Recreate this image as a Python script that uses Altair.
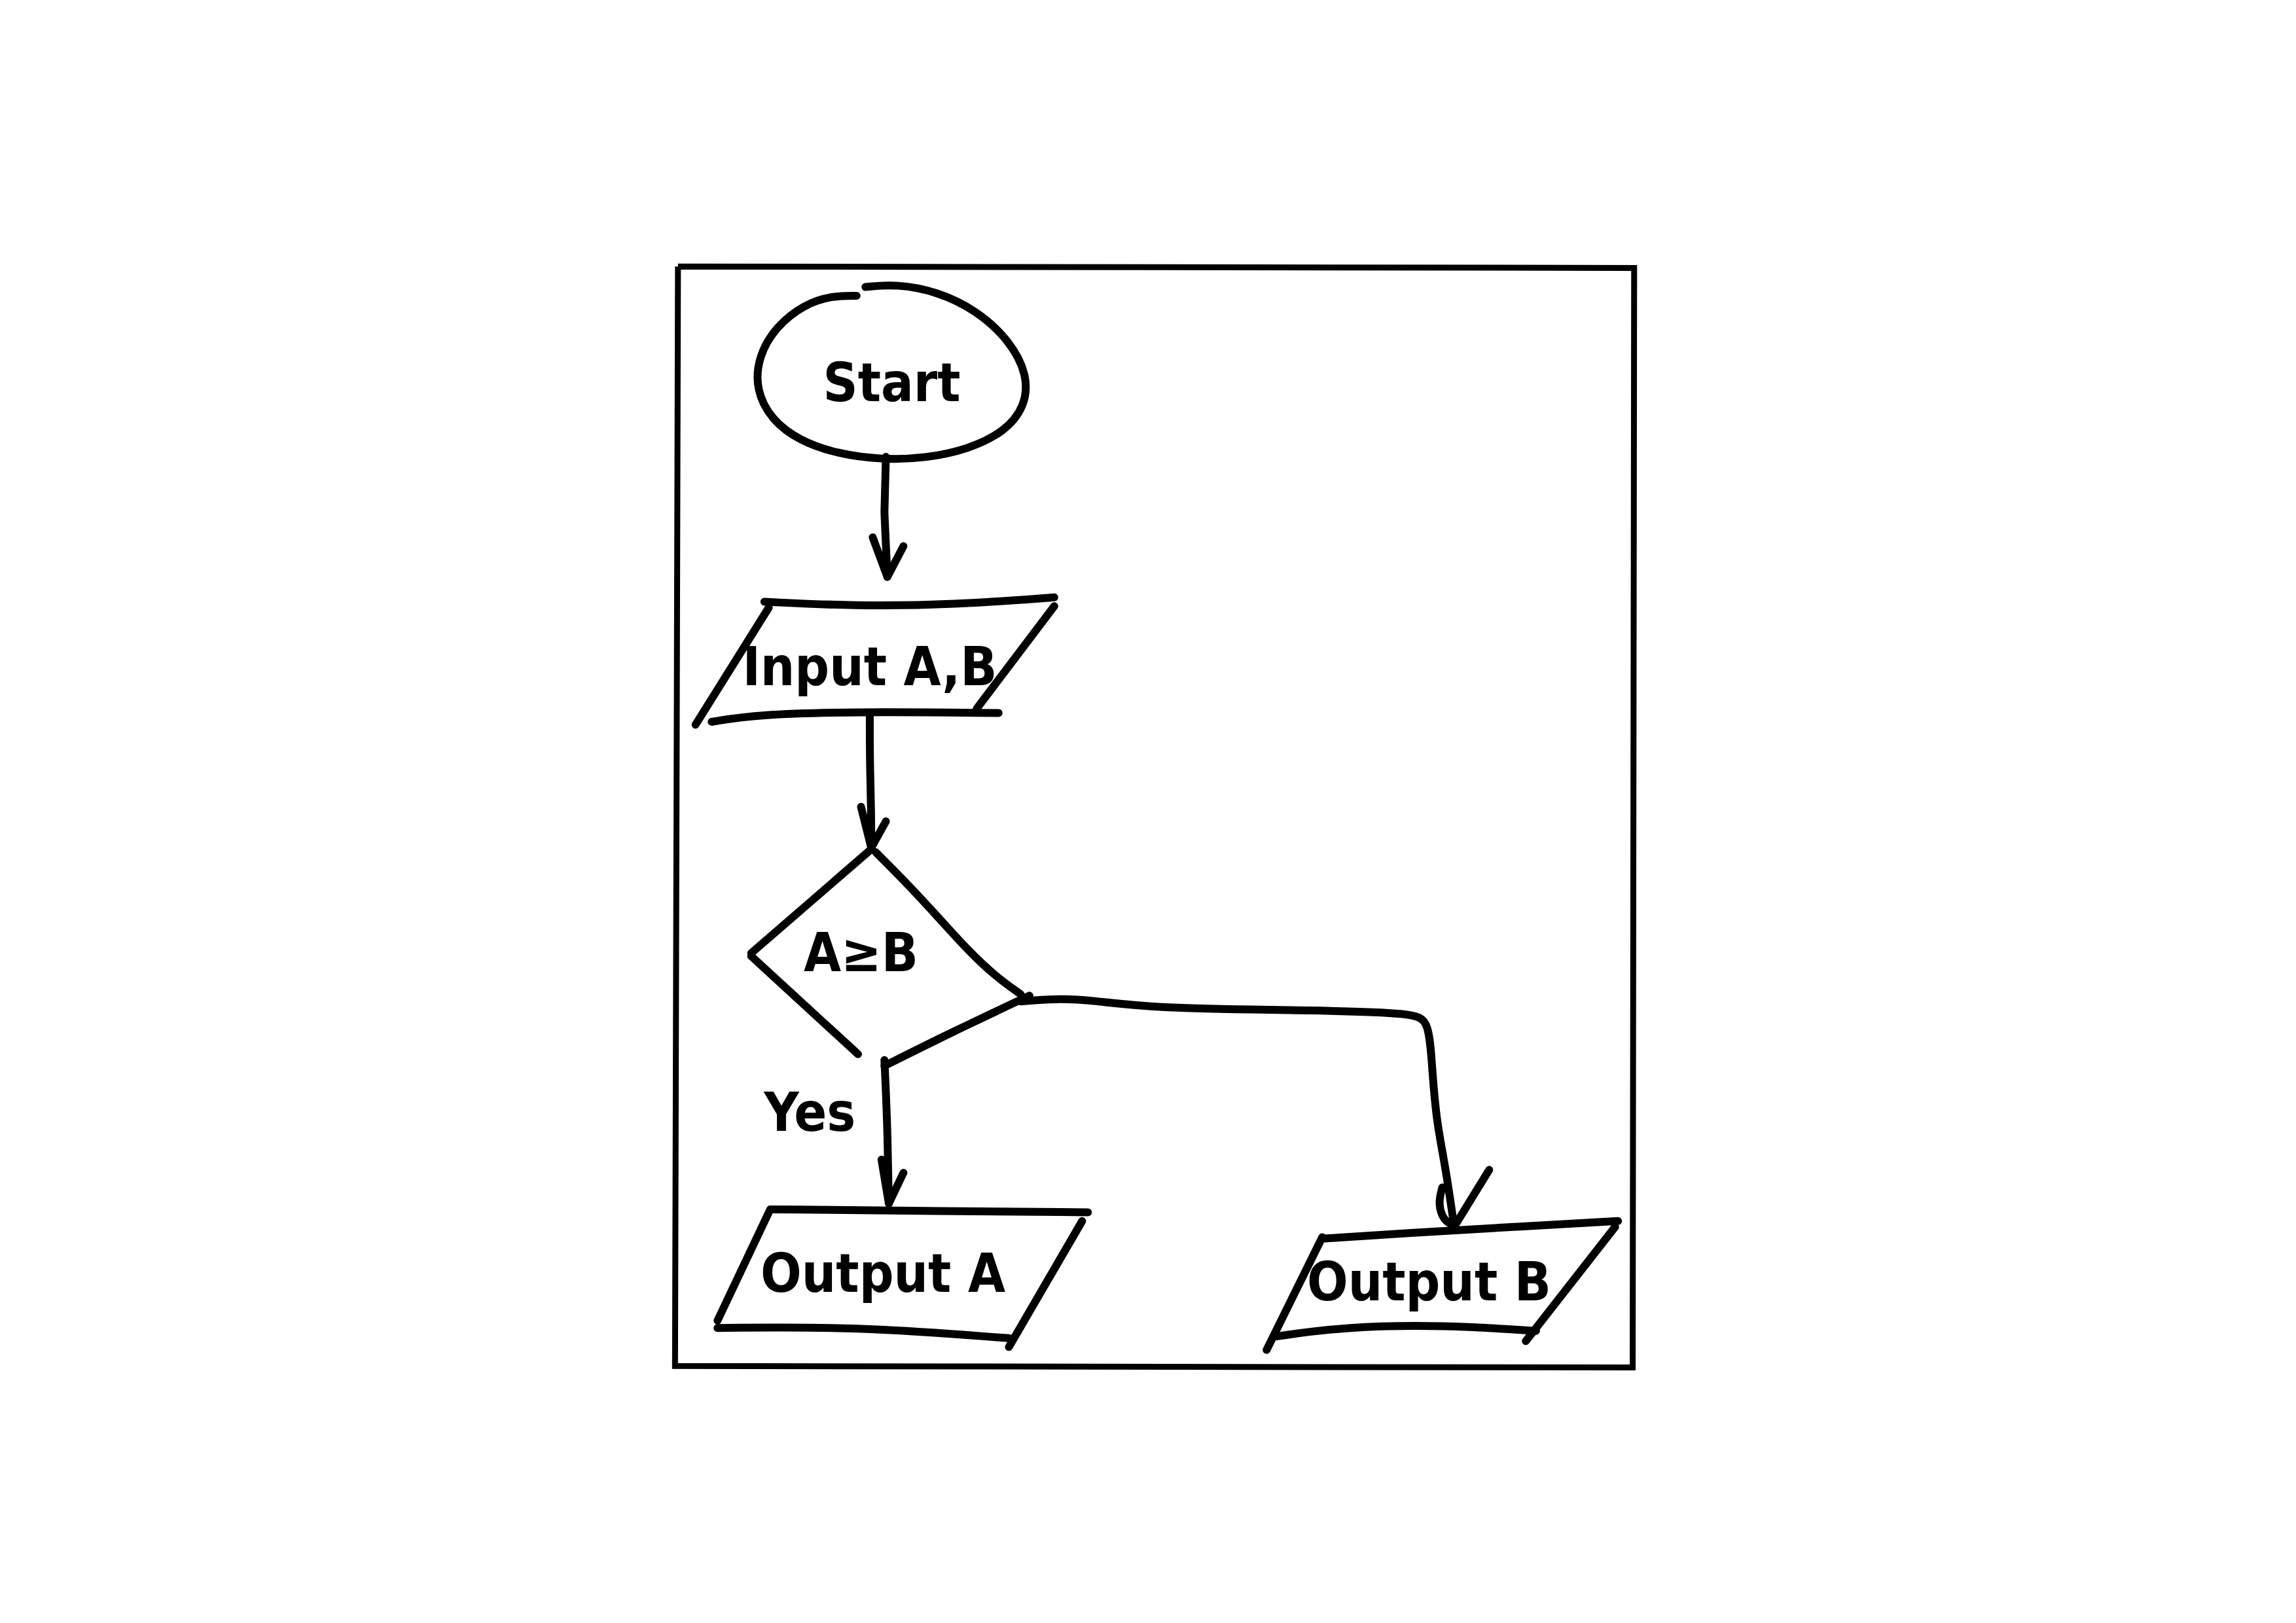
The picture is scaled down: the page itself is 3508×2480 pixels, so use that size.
import altair as alt
import pandas as pd

# hand-drawn flowchart, coordinates
# (units: pixels of the 1568-wide preview, scaled up below)

frame_x = [463, 1116, 1115, 461, 463]
frame_y = [182, 183, 934, 933, 182]

start_x = [591, 612, 640, 667, 689, 702, 700, 686, 661, 632, 602, 572, 546, 527, 516, 518, 530, 549, 568, 585]
start_y = [196, 194, 199, 212, 232, 256, 278, 295, 307, 313, 314, 310, 301, 287, 266, 243, 223, 208, 202, 202]

arrow1_x = [605, 604, 606]
arrow1_y = [312, 350, 394]
head1_x = [596, 606, 617]
head1_y = [367, 394, 373]

in_top_x = [522, 584, 652, 720]
in_top_y = [411, 414, 413, 408]
in_right_x = [720, 667]
in_right_y = [414, 484]
in_bottom_x = [486, 516, 584, 682]
in_bottom_y = [493, 488, 486, 487]
in_left_x = [525, 475]
in_left_y = [415, 495]

arrow2_x = [594, 594, 595, 595]
arrow2_y = [487, 520, 555, 579]
head2_x = [588, 595, 605]
head2_y = [551, 579, 561]

dia_nw_x = [595, 513]
dia_nw_y = [580, 651]
dia_sw_x = [513, 550, 586]
dia_sw_y = [653, 687, 720]
dia_ne_x = [598, 620, 643, 661, 680, 697]
dia_ne_y = [582, 604, 629, 649, 667, 679]
dia_se_x = [703, 650, 604]
dia_se_y = [680, 705, 728]

no_x = [697, 721, 745, 790, 903, 965, 976, 978, 981, 987, 993]
no_y = [684, 682, 683, 689, 690, 692, 697, 730, 766, 796, 837]
no_head_l_x = [985, 982, 986, 993]
no_head_l_y = [811, 822, 834, 837]
no_head_r_x = [1017, 993]
no_head_r_y = [799, 838]

yes_x = [604, 606, 607]
yes_y = [724, 767, 822]
yes_head_x = [602, 607, 617]
yes_head_y = [792, 822, 801]

outa_top_x = [527, 629, 743]
outa_top_y = [826, 827, 828]
outa_right_x = [739, 689]
outa_right_y = [834, 920]
outa_left_x = [526, 490]
outa_left_y = [826, 902]
outa_bottom_x = [490, 584, 689]
outa_bottom_y = [907, 906, 914]

outb_top_x = [903, 964, 1033, 1105]
outb_top_y = [846, 842, 838, 834]
outb_right_x = [1103, 1042]
outb_right_y = [838, 916]
outb_left_x = [903, 865]
outb_left_y = [845, 922]
outb_bottom_x = [870, 919, 987, 1049]
outb_bottom_y = [913, 906, 905, 909]

labels = ["Start", "Input A,B", "A≥B", "Yes", "Output A", "Output B"]
label_x = [609, 594, 588, 553, 603, 976]
label_y = [263, 457, 652, 761, 871, 877]

curved = {
    "start": (start_x, start_y),
    "in_top": (in_top_x, in_top_y),
    "in_bottom": (in_bottom_x, in_bottom_y),
    "arrow2": (arrow2_x, arrow2_y),
    "dia_sw": (dia_sw_x, dia_sw_y),
    "dia_ne": (dia_ne_x, dia_ne_y),
    "dia_se": (dia_se_x, dia_se_y),
    "no": (no_x, no_y),
    "no_head_l": (no_head_l_x, no_head_l_y),
    "yes": (yes_x, yes_y),
    "outa_top": (outa_top_x, outa_top_y),
    "outa_bottom": (outa_bottom_x, outa_bottom_y),
    "outb_top": (outb_top_x, outb_top_y),
    "outb_bottom": (outb_bottom_x, outb_bottom_y),
}
straight = {
    "arrow1": (arrow1_x, arrow1_y),
    "head1": (head1_x, head1_y),
    "in_right": (in_right_x, in_right_y),
    "in_left": (in_left_x, in_left_y),
    "head2": (head2_x, head2_y),
    "dia_nw": (dia_nw_x, dia_nw_y),
    "no_head_r": (no_head_r_x, no_head_r_y),
    "yes_head": (yes_head_x, yes_head_y),
    "outa_right": (outa_right_x, outa_right_y),
    "outa_left": (outa_left_x, outa_left_y),
    "outb_right": (outb_right_x, outb_right_y),
    "outb_left": (outb_left_x, outb_left_y),
}


def to_frame(strokes):
    rows = []
    for name, (xs, ys) in strokes.items():
        for i, (x, y) in enumerate(zip(xs, ys)):
            rows.append({"stroke": name, "i": i, "x": x, "y": y})
    return pd.DataFrame(rows)


S = 3508 / 1568
W, H = 3492, 2464
xs = alt.Scale(domain=[8 / S, 3500 / S], nice=False, zero=False)
ys = alt.Scale(domain=[8 / S, 2472 / S], nice=False, zero=False, reverse=True)

df_frame = pd.DataFrame({"i": range(len(frame_x)), "x": frame_x, "y": frame_y})
df_curved = to_frame(curved)
df_straight = to_frame(straight)
df_labels = pd.DataFrame({"text": labels, "x": label_x, "y": label_y})

box = alt.Chart(df_frame).mark_line(color="black", strokeWidth=9, strokeJoin="miter").encode(
    x=alt.X("x:Q", scale=xs, axis=None),
    y=alt.Y("y:Q", scale=ys, axis=None),
    order="i:O",
)

curves = alt.Chart(df_curved).mark_line(
    color="black", strokeWidth=12, strokeCap="round", strokeJoin="round", interpolate="basis"
).encode(
    x=alt.X("x:Q", scale=xs, axis=None),
    y=alt.Y("y:Q", scale=ys, axis=None),
    detail="stroke:N",
    order="i:O",
)

lines = alt.Chart(df_straight).mark_line(
    color="black", strokeWidth=12, strokeCap="round", strokeJoin="round"
).encode(
    x=alt.X("x:Q", scale=xs, axis=None),
    y=alt.Y("y:Q", scale=ys, axis=None),
    detail="stroke:N",
    order="i:O",
)

text = alt.Chart(df_labels).mark_text(
    font="DejaVu Sans Condensed, DejaVu Sans, sans-serif",
    fontSize=82, fontWeight="bold", color="black", baseline="middle", align="center"
).encode(
    x=alt.X("x:Q", scale=xs, axis=None),
    y=alt.Y("y:Q", scale=ys, axis=None),
    text="text:N",
)

chart = (box + curves + lines + text).properties(
    width=W, height=H, padding=0, background="white"
).configure_view(stroke=None)

chart.save("out.html", embed_options={"renderer": "svg", "actions": False})
